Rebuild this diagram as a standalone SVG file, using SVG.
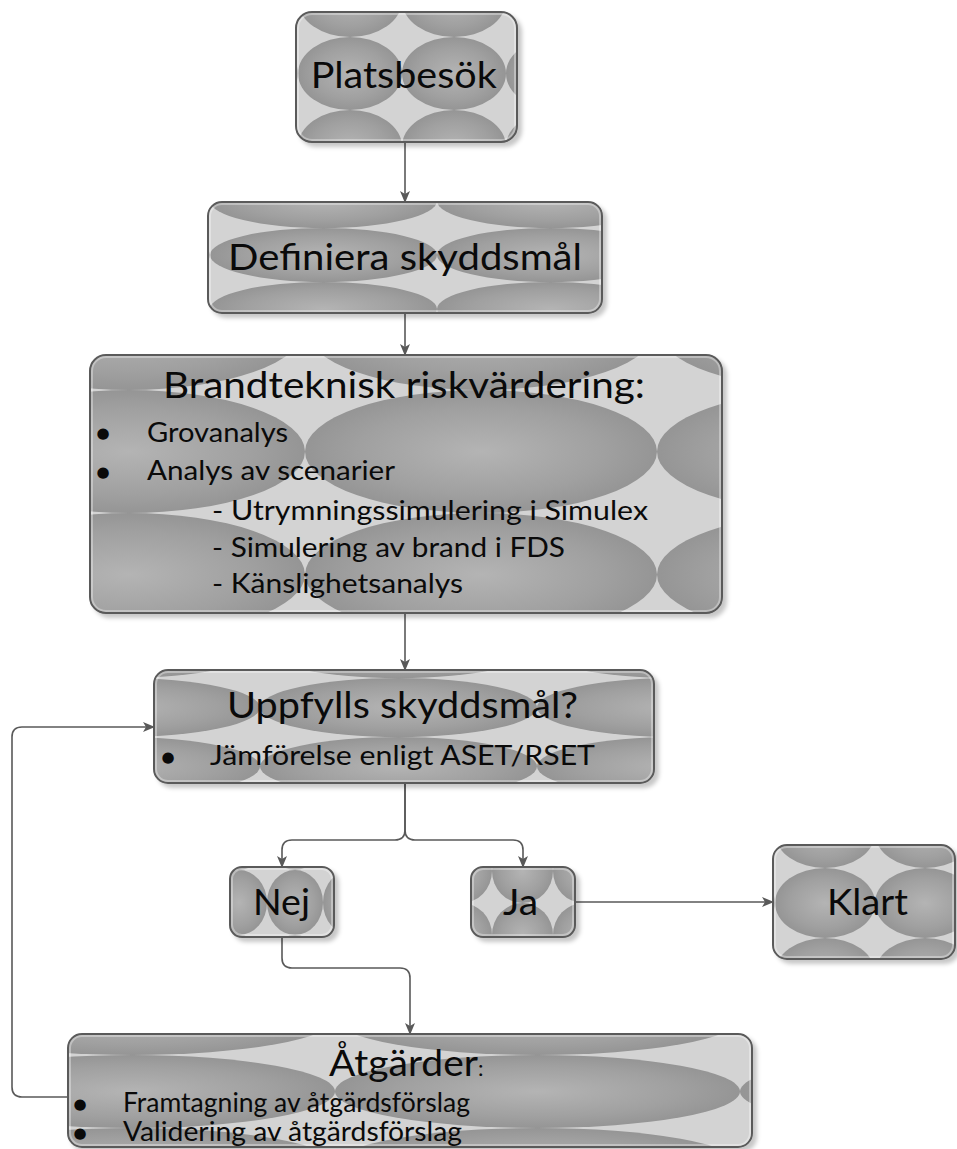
<svg xmlns="http://www.w3.org/2000/svg" width="957" height="1149" viewBox="0 0 957 1149">
<style>
  .box { stroke: #5a5a5a; stroke-width: 2; }
  .hl { fill: none; stroke: #ffffff; stroke-opacity: 0.35; stroke-width: 2; }
  .t { font-family: Lato, "Liberation Sans", sans-serif; fill: #0a0a0a; }
  .big { font-size: 37px; }
  .small { font-size: 26px; }
  .bul { font-family: "DejaVu Sans", sans-serif; font-size: 15px; fill: #0a0a0a; text-anchor: middle; dominant-baseline: central; }
  .conn path { fill: none; stroke: #595959; stroke-width: 1.6; marker-end: url(#ah); }
</style>
<defs>
  <radialGradient id="eg" cx="0.5" cy="0.5" r="0.5">
    <stop offset="0" stop-color="#b4b4b4"/>
    <stop offset="0.7" stop-color="#a0a0a0"/>
    <stop offset="1" stop-color="#959595"/>
  </radialGradient>
  <filter id="sh" x="-5%" y="-5%" width="115%" height="125%">
    <feDropShadow dx="4" dy="4" stdDeviation="2" flood-color="#000" flood-opacity="0.22"/>
  </filter>
  <marker id="ah" markerWidth="12" markerHeight="10" refX="11" refY="5" orient="auto" markerUnits="userSpaceOnUse">
    <path d="M0,0 L12,5 L0,10 L3,5 z" fill="#595959"/>
  </marker>
  <pattern id="p1" patternUnits="userSpaceOnUse" x="298" y="37" width="104" height="73">
    <rect width="104" height="73" fill="#d3d3d3"/>
    <ellipse cx="52" cy="36.5" rx="52" ry="36.5" fill="url(#eg)"/>
  </pattern>
  <pattern id="p2" patternUnits="userSpaceOnUse" x="210" y="228" width="227" height="54">
    <rect width="227" height="54" fill="#d3d3d3"/>
    <ellipse cx="113.5" cy="27" rx="113.5" ry="27" fill="url(#eg)"/>
  </pattern>
  <pattern id="p3" patternUnits="userSpaceOnUse" x="305" y="390" width="352" height="123">
    <rect width="352" height="123" fill="#d3d3d3"/>
    <ellipse cx="176" cy="61.5" rx="176" ry="61.5" fill="url(#eg)"/>
  </pattern>
  <pattern id="p4" patternUnits="userSpaceOnUse" x="260" y="678" width="277" height="59">
    <rect width="277" height="59" fill="#d3d3d3"/>
    <ellipse cx="138.5" cy="29.5" rx="138.5" ry="29.5" fill="url(#eg)"/>
  </pattern>
  <pattern id="p5" patternUnits="userSpaceOnUse" x="267" y="870" width="56" height="65">
    <rect width="56" height="65" fill="#d3d3d3"/>
    <ellipse cx="28" cy="32.5" rx="28" ry="32.5" fill="url(#eg)"/>
  </pattern>
  <pattern id="p6" patternUnits="userSpaceOnUse" x="492" y="903" width="61" height="64">
    <rect width="61" height="64" fill="#d3d3d3"/>
    <ellipse cx="30.5" cy="32" rx="30.5" ry="32" fill="url(#eg)"/>
  </pattern>
  <pattern id="p7" patternUnits="userSpaceOnUse" x="775" y="868" width="100" height="70">
    <rect width="100" height="70" fill="#d3d3d3"/>
    <ellipse cx="50" cy="35" rx="50" ry="35" fill="url(#eg)"/>
  </pattern>
  <pattern id="p8" patternUnits="userSpaceOnUse" x="335" y="1055" width="405" height="73">
    <rect width="405" height="73" fill="#d3d3d3"/>
    <ellipse cx="202.5" cy="36.5" rx="202.5" ry="36.5" fill="url(#eg)"/>
  </pattern>
</defs>
<rect width="957" height="1149" fill="#ffffff"/>

<g class="conn" id="connectors">
  <path d="M405,142 V202"/>
  <path d="M405,313 V355"/>
  <path d="M405,613 V670"/>
  <path d="M405,783 V830 Q405,840 395,840 H292 Q282,840 282,850 V867"/>
  <path d="M405,783 V830 Q405,840 415,840 H513 Q523,840 523,850 V867"/>
  <path d="M575,902 H773"/>
  <path d="M282,937 V958 Q282,968 292,968 H400 Q410,968 410,978 V1034"/>
  <path d="M68,1097 H22 Q12,1097 12,1087 V737 Q12,727 22,727 H154"/>
</g>

<g id="platsbesok">
  <rect class="box" x="296" y="12" width="221" height="130" rx="16" fill="url(#p1)" filter="url(#sh)"/>
  <rect class="hl" x="298" y="14" width="217" height="126" rx="14"/>
  <text class="t big" x="310.7" y="88" textLength="186" lengthAdjust="spacingAndGlyphs">Platsbesök</text>
</g>

<g id="definiera">
  <rect class="box" x="208" y="202" width="394" height="111" rx="14" fill="url(#p2)" filter="url(#sh)"/>
  <rect class="hl" x="210" y="204" width="390" height="107" rx="12"/>
  <text class="t big" x="228" y="270" textLength="354" lengthAdjust="spacingAndGlyphs">Definiera skyddsmål</text>
</g>

<g id="brandteknisk">
  <rect class="box" x="90" y="355" width="632" height="258" rx="16" fill="url(#p3)" filter="url(#sh)"/>
  <rect class="hl" x="92" y="357" width="628" height="254" rx="14"/>
  <text class="t big" x="163" y="398" textLength="482" lengthAdjust="spacingAndGlyphs">Brandteknisk riskvärdering:</text>
  <text class="bul" x="103" y="433">●</text>
  <text class="t small" x="147" y="442" textLength="141" lengthAdjust="spacingAndGlyphs">Grovanalys</text>
  <text class="bul" x="103" y="472">●</text>
  <text class="t small" x="147" y="480" textLength="248" lengthAdjust="spacingAndGlyphs">Analys av scenarier</text>
  <text class="t small" x="212" y="520" textLength="436" lengthAdjust="spacingAndGlyphs">- Utrymningssimulering i Simulex</text>
  <text class="t small" x="212" y="557" textLength="353" lengthAdjust="spacingAndGlyphs">- Simulering av brand i FDS</text>
  <text class="t small" x="212" y="593" textLength="251" lengthAdjust="spacingAndGlyphs">- Känslighetsanalys</text>
</g>

<g id="uppfylls">
  <rect class="box" x="154" y="670" width="500" height="113" rx="14" fill="url(#p4)" filter="url(#sh)"/>
  <rect class="hl" x="156" y="672" width="496" height="109" rx="12"/>
  <text class="t big" x="227" y="718" textLength="351" lengthAdjust="spacingAndGlyphs">Uppfylls skyddsmål?</text>
  <text class="bul" x="168" y="757">●</text>
  <text class="t small" x="210" y="765" textLength="385" lengthAdjust="spacingAndGlyphs">Jämförelse enligt ASET/RSET</text>
</g>

<g id="nej">
  <rect class="box" x="230" y="867" width="104" height="70" rx="12" fill="url(#p5)" filter="url(#sh)"/>
  <rect class="hl" x="232" y="869" width="100" height="66" rx="10"/>
  <text class="t big" x="253" y="915" textLength="57" lengthAdjust="spacingAndGlyphs">Nej</text>
</g>

<g id="ja">
  <rect class="box" x="471" y="867" width="104" height="70" rx="12" fill="url(#p6)" filter="url(#sh)"/>
  <rect class="hl" x="473" y="869" width="100" height="66" rx="10"/>
  <text class="t big" x="503" y="915" textLength="35" lengthAdjust="spacingAndGlyphs">Ja</text>
</g>

<g id="klart">
  <rect class="box" x="773" y="845" width="182" height="114" rx="14" fill="url(#p7)" filter="url(#sh)"/>
  <rect class="hl" x="775" y="847" width="178" height="110" rx="12"/>
  <text class="t big" x="827" y="915" textLength="81" lengthAdjust="spacingAndGlyphs">Klart</text>
</g>

<g id="atgarder">
  <rect class="box" x="68" y="1034" width="684" height="113" rx="14" fill="url(#p8)" filter="url(#sh)"/>
  <rect class="hl" x="70" y="1036" width="680" height="109" rx="12"/>
  <text class="t big" x="329" y="1076"><tspan textLength="149" lengthAdjust="spacingAndGlyphs">Åtgärder</tspan><tspan font-size="22px">:</tspan></text>
  <text class="bul" x="80" y="1104">●</text>
  <text class="t small" x="123" y="1112" textLength="347" lengthAdjust="spacingAndGlyphs">Framtagning av åtgärdsförslag</text>
  <text class="bul" x="80" y="1133">●</text>
  <text class="t small" x="123" y="1141" textLength="339" lengthAdjust="spacingAndGlyphs">Validering av åtgärdsförslag</text>
</g>
</svg>
